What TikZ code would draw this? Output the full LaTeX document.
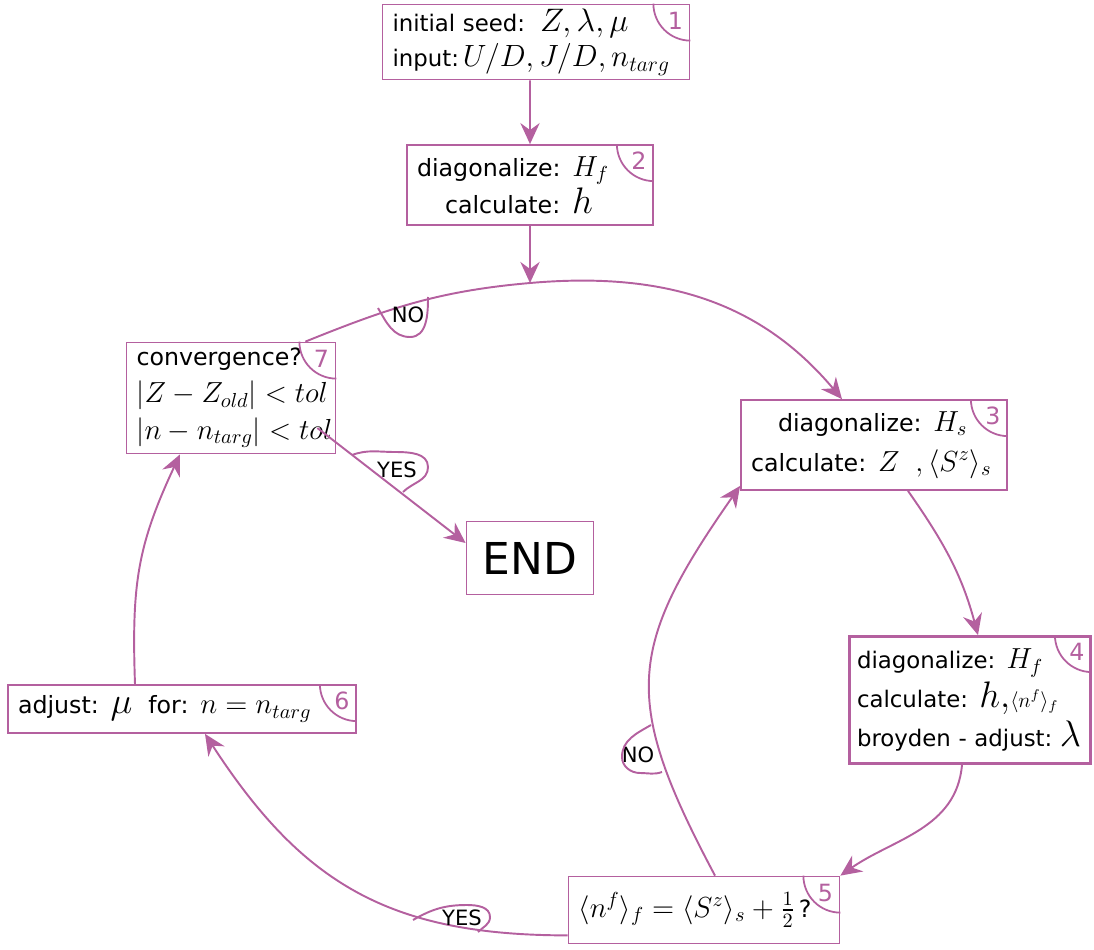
\RequirePackage{fix-cm}
\documentclass[tikz,border=0pt]{standalone}
\usepackage[no-math]{fontspec}
\setmainfont{DejaVu Sans}
\usepackage{amsmath}
\usetikzlibrary{arrows.meta}
\definecolor{flowpink}{HTML}{B4609F}
\newcommand{\mth}[1]{\mbox{\fontsize{16.5}{20}\selectfont$#1$}}
\newcommand{\lrgmth}[1]{\mbox{\fontsize{21}{22}\selectfont$#1$}}
\newcommand{\smlmth}[1]{\mbox{\fontsize{12}{14}\selectfont$#1$}}
\medmuskip=4mu\relax
\thickmuskip=5mu\relax

\begin{document}
\begin{tikzpicture}[>={Stealth[length=12pt,width=11pt,inset=4pt]},
      box/.style={draw=flowpink,line width=1pt,fill=white,align=left,
        inner xsep=0.2cm,inner ysep=0pt,font=\fontsize{13.5}{21}\selectfont},
      conn/.style={draw=flowpink,line width=1.1pt},
      flow/.style={conn,->},
      num/.style={text=flowpink,font=\fontsize{13.5}{16}\selectfont},
      tag/.style={inner sep=0pt,font=\fontsize{12}{14}\selectfont}]
      \useasboundingbox (0,0) rectangle (21.88,18.98);

      % the seven steps
      \node[box,text width=5.74cm,minimum height=1.5cm,font=\fontsize{13}{20}\selectfont] (b1) at (10.72,18.14)
        {initial seed:\hspace{0.3cm}\mbox{\fontsize{18.5}{20}\selectfont$Z,\lambda,\mu$}\\input:\,\mbox{\fontsize{17.5}{20}\selectfont$U/D,J/D,n_{targ}$}};
      \node[box,text width=4.52cm,minimum height=1.6cm] (b2) at (10.60,15.28)
        {diagonalize: \mth{H_f}\\\hspace*{0.56cm}calculate: \lrgmth{h}};
      \node[box,text width=3.78cm,minimum height=2.22cm] (b7) at (4.62,11.02)
        {convergence?\\\mth{|Z-Z_{old}|<tol}\\\mth{|n-n_{targ}|<tol}};
      \node[box,text width=4.92cm,minimum height=1.8cm,font=\fontsize{13.5}{22.5}\selectfont] (b3) at (17.48,10.08)
        {\hspace*{0.54cm}diagonalize: \mth{H_s}\\calculate: \mth{Z\ \ ,\langle S^z\rangle_s}};
      \node[box,line width=1.6pt,inner xsep=0.15cm,text width=4.52cm,minimum height=2.54cm,font=\fontsize{13}{22}\selectfont] (b4) at (19.40,4.98)
        {diagonalize: \mth{H_f}\\calculate: \lrgmth{h,}\smlmth{\langle n^f\rangle_f}\\broyden - adjust:~\lrgmth{\lambda}};
      \node[box,text width=5.02cm,minimum height=1.34cm] (b5) at (14.08,0.78)
        {\mth{\langle n^f\rangle_f=\langle S^z\rangle_s+\frac{1}{2}}\,?};
      \node[box,text width=6.56cm,minimum height=0.96cm] (b6) at (3.64,4.80)
        {adjust: \lrgmth{\mu}\ \ for: \mth{n=n_{targ}}};
      \node[box,align=center,text width=2.14cm,minimum height=1.46cm,font=\fontsize{25}{30}\selectfont] (end) at (10.60,7.82) {END};

      % step numbers in the corners
      \foreach \b/\n in {b1/1,b2/2,b3/3,b4/4,b5/5,b6/6,b7/7} {
        \draw[conn,line width=1pt] ([xshift=-0.74cm]\b.north east) arc[start angle=180,end angle=270,radius=0.74cm];
        \node[num] at ([shift={(-0.3cm,-0.34cm)}]\b.north east) {\n};
      }

      \coordinate (arctop) at (10.60,13.32);

      % connectors
      \draw[flow] ([xshift=-0.12cm]b1.south) -- (b2.north);
      \draw[flow] (b2.south) -- (arctop);
      \draw[flow] ([xshift=-0.62cm]b7.north east) to[out=22,in=185] (arctop)
        to[out=5,in=130] ([xshift=-0.64cm]b3.north);
      \draw[flow] ([xshift=0.68cm]b3.south) to[out=-55,in=105] ([xshift=0.16cm]b4.north);
      \draw[flow] ([xshift=-0.16cm]b4.south) to[out=-95,in=35] (b5.north east);
      \draw[flow] ([xshift=0.22cm]b5.north) to[out=118,in=235,looseness=1.3] ([yshift=0.1cm]b3.south west);
      \draw[flow] ([yshift=0.18cm]b5.south west) to[out=180,in=-57,looseness=1.1] ([xshift=0.46cm]b6.south);
      \draw[flow] ([xshift=-0.94cm]b6.north) to[out=92,in=-115,looseness=1.1] ([xshift=-1.02cm]b7.south);
      \draw[flow] ([shift={(-0.38cm,-0.6cm)}]b7.east) -- ([yshift=0.3cm]end.west);

      % answers on the connectors
      \node[tag] (no1) at (8.16,12.68) {NO};
      \node[tag] (yes1) at (7.94,9.58) {YES};
      \node[tag] (yes2) at (9.24,0.62) {YES};
      \node[tag] (no2) at (12.76,3.88) {NO};
      \draw[conn] ([shift={(-0.60cm,0.14cm)}]no1.center) to[out=-60,in=180] ([shift={(0.04cm,-0.44cm)}]no1.center)
        to[out=0,in=-90] ([shift={(0.40cm,0.36cm)}]no1.center);
      \draw[conn] ([shift={(-0.90cm,0.30cm)}]yes1.center) to[out=20,in=180] ([shift={(-0.04cm,0.36cm)}]yes1.center)
        to[out=0,in=90] ([shift={(0.62cm,0.06cm)}]yes1.center) to[out=-90,in=45] ([shift={(0.12cm,-0.44cm)}]yes1.center);
      \draw[conn] ([shift={(-0.98cm,-0.04cm)}]yes2.center) to[out=30,in=180] ([shift={(0.10cm,0.26cm)}]yes2.center)
        to[out=0,in=90] ([shift={(0.56cm,0.02cm)}]yes2.center) to[out=-90,in=45] ([shift={(0.32cm,-0.28cm)}]yes2.center);
      \draw[conn] ([shift={(0.26cm,0.60cm)}]no2.center) to[out=-150,in=90] ([shift={(-0.32cm,-0.04cm)}]no2.center)
        to[out=-90,in=180] ([shift={(0.04cm,-0.36cm)}]no2.center) to[out=0,in=200] ([shift={(0.48cm,-0.34cm)}]no2.center);
\end{tikzpicture}
\end{document}
